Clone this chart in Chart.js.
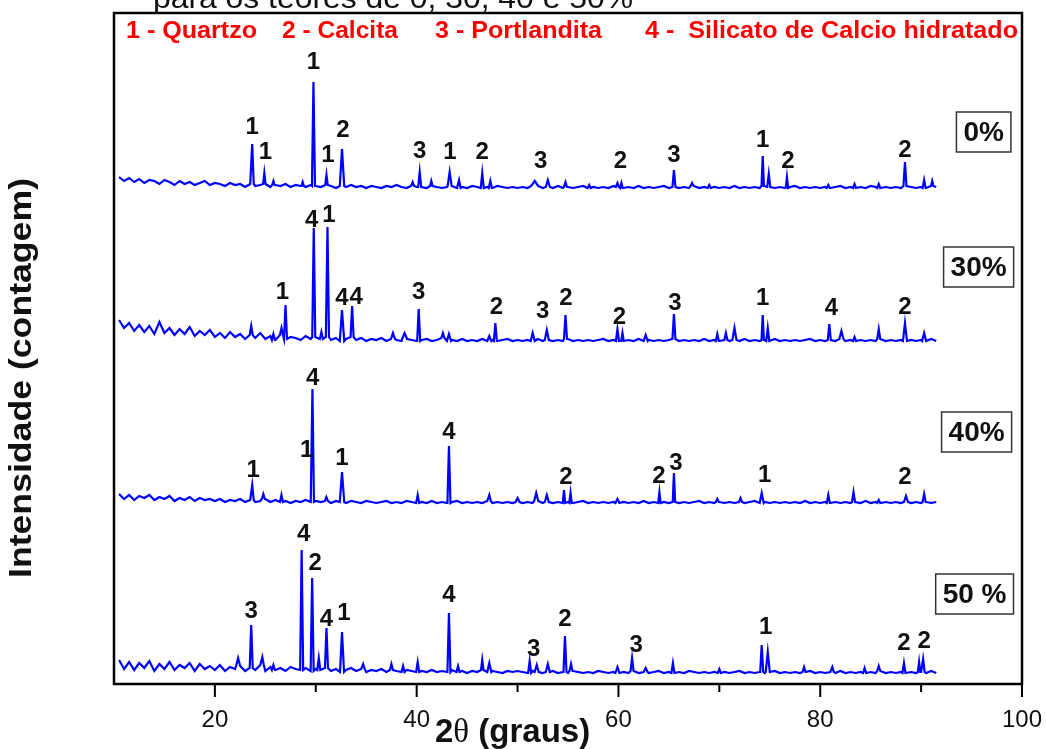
<!DOCTYPE html>
<html>
<head>
<meta charset="utf-8">
<script src="https://cdn.jsdelivr.net/npm/chart.js@4.4.1/dist/chart.umd.min.js"></script>
<style>
  body { margin: 0; background: #fff; }
  #wrap { width: 1046px; height: 749px; position: relative; }
</style>
</head>
<body>
<div id="wrap"><canvas id="xrdChart"></canvas></div>
<script>
// 2-theta axis
const xMin = 10, xMax = 100;
const majorTicks = [20, 40, 60, 80, 100];
const minorTicks = [30, 50, 70, 90];

// samples (teor de substituicao)
const samples = ['0%', '30%', '40%', '50 %'];

// background readings, one every 0.5 deg starting at 10.5
const bgStart = 10.5, bgStep = 0.5;
const background0 = [
    507,503,506,502,505,501,504,503,500,504,502,499,503,500,502,499,501,503,499,501,
    500,498,501,499,500,497,500,498,499,500,497,499,498,500,497,499,498,497,499,498,
    497,499,498,496,498,497,499,497,498,496,498,497,496,498,497,499,497,496,498,497,
    497,496,498,497,496,497,498,496,497,496,498,497,496,497,496,498,497,496,497,496,
    497,496,498,497,496,497,496,498,496,497,496,497,498,496,497,496,497,496,498,497,
    496,497,496,498,496,497,496,497,498,496,497,496,497,496,498,496,497,496,497,496,
    497,496,498,496,497,496,497,496,498,497,496,497,496,497,498,496,497,496,497,496,
    497,496,497,498,496,497,496,497,496,498,497,496,497,496,497,496,498,497,496,497,
    496,498,497
];
const background30 = [
    364,356,361,353,359,352,358,350,362,351,356,349,355,350,357,348,353,349,354,347,
    351,346,352,347,350,345,349,346,351,345,348,344,349,345,347,346,344,348,345,347,
    345,347,344,346,343,345,347,344,346,343,345,344,346,343,345,344,343,345,344,343,
    344,345,343,344,346,343,344,343,345,343,344,343,345,343,344,343,344,345,343,344,
    343,344,343,345,343,344,343,344,343,345,343,344,343,344,343,344,345,343,344,343,
    343,344,343,345,343,344,343,344,343,344,345,343,344,343,344,343,345,343,344,343,
    344,343,344,343,345,343,344,343,344,343,345,343,344,343,344,343,344,345,343,344,
    343,344,343,345,343,344,343,344,343,344,343,345,343,344,343,344,343,344,343,344,
    343,345,343
];
const background40 = [
    190,185,189,184,188,186,189,184,187,185,188,183,186,184,187,183,186,184,185,183,
    185,182,184,183,185,182,184,182,183,185,182,184,182,183,181,183,182,184,182,183,
    182,183,181,183,182,181,183,182,181,183,182,181,182,183,181,182,181,183,182,181,
    182,181,183,181,182,181,182,183,181,182,181,182,181,183,181,182,181,182,181,182,
    181,182,181,183,181,182,181,182,181,182,181,182,183,181,182,181,182,181,182,181,
    182,181,182,181,183,181,182,181,182,181,182,181,182,181,182,183,181,182,181,182,
    181,182,181,182,181,182,183,181,182,181,182,181,182,181,182,181,183,181,182,181,
    182,181,182,181,182,181,182,181,183,181,182,181,182,181,182,181,182,181,182,181,
    182,181,182
];
const background50 = [
    24,15,22,14,21,16,23,13,20,15,22,14,19,16,21,13,20,15,18,14,
    19,13,17,15,18,13,16,14,19,13,17,14,16,13,17,15,14,16,13,15,
    14,16,13,15,12,14,16,13,15,12,14,13,15,12,14,13,12,14,13,12,
    13,12,14,12,13,12,14,12,13,11,13,12,14,12,13,12,11,13,12,13,
    12,11,13,12,11,12,13,11,12,11,13,12,11,12,11,13,12,11,12,11,
    12,11,13,11,12,11,12,13,11,12,11,12,11,13,12,11,12,11,12,11,
    12,11,12,13,11,12,11,12,11,12,13,11,12,11,12,11,12,13,11,12,
    11,12,11,13,11,12,11,12,11,12,11,13,11,12,11,12,11,12,11,12,
    11,13,11
];

// peaks: [2theta, height above background, half width]
const peaks0 = [
    [23.7,40,.15],[24.9,11,.12],[25.8,4,.12],[28.7,4,.12],[29.77,104,.15],[31.06,10,.12],
    [32.6,37,.22],[39.6,4,.15],[40.3,15,.15],[41.45,5,.12],[43.27,14,.2],[44.2,8,.15],
    [46.5,15,.15],[47.3,7,.15],[51.7,5,.35],[53.0,7,.2],[54.75,5,.15],[57.1,3,.15],
    [59.9,4,.15],[60.3,5,.12],[65.5,17,.15],[67.3,3,.15],[69.0,3,.15],[74.3,30,.12],
    [74.9,13,.15],[76.7,11,.12],[80.8,3,.15],[83.4,4,.15],[85.8,4,.15],[88.4,24,.15],
    [90.3,8,.15],[91.1,5,.12]
];
const peaks30 = [
    [23.6,9,.15],[25.8,6,.15],[26.6,7,.15],[27.0,34,.15],[29.8,109,.15],[30.56,7,.15],
    [31.16,110,.15],[32.6,31,.22],[33.6,31,.15],[37.65,6,.2],[38.8,6,.25],[40.2,32,.15],
    [42.6,5,.15],[43.2,7,.2],[47.2,5,.2],[47.8,18,.15],[51.5,8,.2],[52.9,10,.2],
    [54.75,24,.15],[59.9,12,.15],[60.4,8,.12],[62.7,6,.2],[65.5,25,.15],[69.8,7,.15],
    [70.65,7,.15],[71.5,12,.2],[74.3,25,.12],[74.8,13,.15],[80.9,16,.15],[82.1,8,.2],
    [83.4,4,.15],[85.8,10,.15],[88.4,18,.2],[90.3,8,.2]
];
const peaks40 = [
    [23.7,15,.15],[24.8,5,.15],[26.6,7,.15],[29.67,113,.15],[31.05,4,.15],[32.6,30,.22],
    [40.1,8,.15],[43.2,57,.15],[47.2,6,.15],[50.0,4,.2],[51.85,8,.2],[52.9,7,.2],
    [54.6,13,.12],[55.25,10,.12],[59.9,4,.2],[64.06,11,.12],[65.5,29,.12],[69.8,3,.15],
    [72.1,4,.15],[74.2,10,.2],[80.8,8,.15],[83.3,10,.15],[85.8,3,.15],[88.5,6,.2],
    [90.3,8,.15]
];
const peaks50 = [
    [22.3,8,.2],[23.6,43,.15],[24.7,8,.15],[25.8,5,.15],[28.6,120,.15],[29.64,93,.15],
    [30.3,12,.15],[31.06,40,.15],[32.6,40,.2],[34.7,5,.15],[37.5,6,.15],[38.65,6,.15],
    [40.1,10,.15],[43.2,59,.15],[44.1,6,.15],[46.5,10,.12],[47.2,9,.2],[51.2,12,.15],
    [51.9,7,.2],[53.0,8,.2],[54.7,36,.15],[55.3,7,.15],[59.9,6,.2],[61.35,13,.15],
    [62.7,4,.2],[65.4,10,.15],[70.0,4,.15],[74.2,27,.15],[74.8,20,.2],[78.4,5,.15],
    [81.2,5,.15],[84.4,5,.15],[85.8,5,.15],[88.3,10,.15],[89.8,10,.12],[90.2,13,.15]
];

// phase labels: [2theta, intensity, phase number]
const phaseLabels0 = [
    [23.7,557,'1'],[25.0,532,'1'],[29.77,622,'1'],[31.2,529,'1'],[32.7,554,'2'],[40.3,533,'3'],
    [43.3,532,'1'],[46.5,532,'2'],[52.3,523,'3'],[60.2,523,'2'],[65.5,529,'3'],[74.3,544,'1'],
    [76.8,523,'2'],[88.4,534,'2']
];
const phaseLabels30 = [
    [26.7,392,'1'],[29.6,464,'4'],[31.3,469,'1'],[32.6,386,'4'],[34.0,387,'4'],[40.2,392,'3'],
    [47.9,377,'2'],[52.5,373,'3'],[54.8,386,'2'],[60.1,367,'2'],[65.6,381,'3'],[74.3,386,'1'],
    [81.1,376,'4'],[88.4,377,'2']
];
const phaseLabels40 = [
    [23.8,214,'1'],[29.7,306,'4'],[29.1,234,'1'],[32.6,226,'1'],[43.2,252,'4'],[54.8,207,'2'],
    [64.0,208,'2'],[65.7,221,'3'],[74.5,209,'1'],[88.4,207,'2']
];
const phaseLabels50 = [
    [23.6,73,'3'],[28.8,150,'4'],[29.95,121,'2'],[31.06,65,'4'],[32.8,71,'1'],[43.2,89,'4'],
    [51.6,35,'3'],[54.7,65,'2'],[61.75,39,'3'],[74.6,57,'1'],[88.3,41,'2'],[90.3,43,'2']
];

const legendItems = ['1 - Quartzo', '2 - Calcita', '3 - Portlandita', '4 -  Silicato de Calcio hidratado'];

// build a trace: background points plus each peak as a sharp spike
function buildTrace(bg, peaks) {
    const pts = [];
    bg.forEach((v, i) => {
        const x = bgStart + i * bgStep;
        const inside = peaks.some(p => x >= p[0] - p[2] && x <= p[0] + p[2]);
        if (!inside) pts.push({ x: x, y: v });
    });
    peaks.forEach(p => {
        const idx = Math.min(bg.length - 1, Math.max(0, Math.round((p[0] - bgStart) / bgStep)));
        const base = bg[idx];
        pts.push({ x: p[0] - p[2], y: base });
        pts.push({ x: p[0], y: base + p[1] });
        pts.push({ x: p[0] + p[2], y: base });
    });
    return pts.sort((a, b) => a.x - b.x);
}

const traces = [
    buildTrace(background0, peaks0),
    buildTrace(background30, peaks30),
    buildTrace(background40, peaks40),
    buildTrace(background50, peaks50)
];
const allLabels = [phaseLabels0, phaseLabels30, phaseLabels40, phaseLabels50];

// layout of the sample boxes (2theta, intensity of box centre)
const boxSpots = [[96.2, 552], [95.7, 417], [95.5, 252], [95.3, 90]];

const SANS = "'Liberation Sans', Arial, sans-serif";

function fitText(ctx, text, x, y, width) {
    const w = ctx.measureText(text).width;
    ctx.save();
    ctx.translate(x, y);
    ctx.scale(width / w, 1);
    ctx.fillText(text, 0, 0);
    ctx.restore();
}

const decor = {
    id: 'decor',
    beforeDraw(chart) {
        const ctx = chart.ctx;
        ctx.save();
        ctx.fillStyle = '#fff';
        ctx.fillRect(0, 0, chart.width, chart.height);
        ctx.restore();
    },
    afterDraw(chart) {
        const { ctx, chartArea: a, scales: { x, y } } = chart;
        ctx.save();

        // frame
        ctx.strokeStyle = '#000';
        ctx.lineWidth = 2.5;
        ctx.strokeRect(a.left, a.top, a.right - a.left, a.bottom - a.top);

        // tick marks
        ctx.lineWidth = 2;
        majorTicks.forEach(v => {
            const px = x.getPixelForValue(v);
            ctx.beginPath(); ctx.moveTo(px, a.bottom); ctx.lineTo(px, a.bottom + 13); ctx.stroke();
        });
        minorTicks.forEach(v => {
            const px = x.getPixelForValue(v);
            ctx.beginPath(); ctx.moveTo(px, a.bottom); ctx.lineTo(px, a.bottom + 8); ctx.stroke();
        });

        // phase numbers above peaks
        ctx.fillStyle = '#111';
        ctx.font = 'bold 24px ' + SANS;
        ctx.textAlign = 'center';
        ctx.textBaseline = 'middle';
        allLabels.forEach(list => list.forEach(l => {
            ctx.fillText(l[2], x.getPixelForValue(l[0]), y.getPixelForValue(l[1]));
        }));

        // sample boxes
        ctx.font = 'bold 28px ' + SANS;
        samples.forEach((s, i) => {
            const cx = x.getPixelForValue(boxSpots[i][0]);
            const cy = y.getPixelForValue(boxSpots[i][1]);
            const w = ctx.measureText(s).width + 14;
            ctx.fillStyle = '#fff';
            ctx.fillRect(cx - w / 2, cy - 20, w, 40);
            ctx.strokeStyle = '#333';
            ctx.lineWidth = 1.5;
            ctx.strokeRect(cx - w / 2, cy - 20, w, 40);
            ctx.fillStyle = '#111';
            ctx.fillText(s, cx, cy + 1);
        });

        // legend of phases, in red
        ctx.fillStyle = '#ff0000';
        ctx.font = 'bold 23px ' + SANS;
        ctx.textAlign = 'left';
        ctx.textBaseline = 'alphabetic';
        const legX = [126, 282, 435, 645];
        const legW = [131, 116, 167, 373];
        legendItems.forEach((t, i) => fitText(ctx, t, legX[i], 38, legW[i]));

        // clipped title line at the very top
        ctx.fillStyle = '#111';
        ctx.font = '30px ' + SANS;
        fitText(ctx, 'para os teores de 0, 30, 40 e 50%', 153, 8, 480);

        // x title
        const xfs = 33;
        ctx.font = 'bold ' + xfs + 'px ' + SANS;
        let tx = 435;
        ctx.fillText('2', tx, 742);
        tx += ctx.measureText('2').width;
        ctx.font = xfs + "px 'Liberation Serif', 'Times New Roman', serif";
        ctx.fillText('\u03B8', tx, 742);
        tx += ctx.measureText('\u03B8').width;
        ctx.font = 'bold ' + xfs + 'px ' + SANS;
        ctx.fillText(' (graus)', tx, 742);

        // y title
        ctx.save();
        ctx.translate(22, 378);
        ctx.rotate(-Math.PI / 2);
        ctx.font = 'bold 31px ' + SANS;
        ctx.textAlign = 'left';
        ctx.textBaseline = 'middle';
        const yt = 'Intensidade (contagem)';
        const yw = ctx.measureText(yt).width;
        ctx.scale(400 / yw, 1);
        ctx.fillText(yt, -yw / 2, 0);
        ctx.restore();

        ctx.restore();
    }
};

new Chart(document.getElementById('xrdChart'), {
    type: 'line',
    data: {
        datasets: traces.map((t, i) => ({
            label: samples[i],
            data: t,
            borderColor: '#0000ff',
            borderWidth: 2.2,
            pointRadius: 0,
            tension: 0,
            fill: false
        }))
    },
    options: {
        responsive: true,
        maintainAspectRatio: false,
        animation: false,
        layout: { padding: { left: 114, right: 24, top: 13, bottom: 0 } },
        plugins: { legend: { display: false }, tooltip: { enabled: false } },
        scales: {
            x: {
                type: 'linear',
                min: xMin,
                max: xMax,
                border: { display: false },
                grid: { display: false, drawTicks: false },
                afterFit: scale => {
                    scale.height = 65;
                    scale.paddingLeft = 0;
                    scale.paddingRight = 0;
                },
                ticks: {
                    stepSize: 10,
                    autoSkip: false,
                    maxRotation: 0,
                    padding: 22,
                    color: '#111',
                    font: { size: 24, family: SANS },
                    callback: v => majorTicks.includes(v) ? String(v) : ''
                }
            },
            y: { display: false, min: 0, max: 671 }
        }
    },
    plugins: [decor]
});
</script>
</body>
</html>
